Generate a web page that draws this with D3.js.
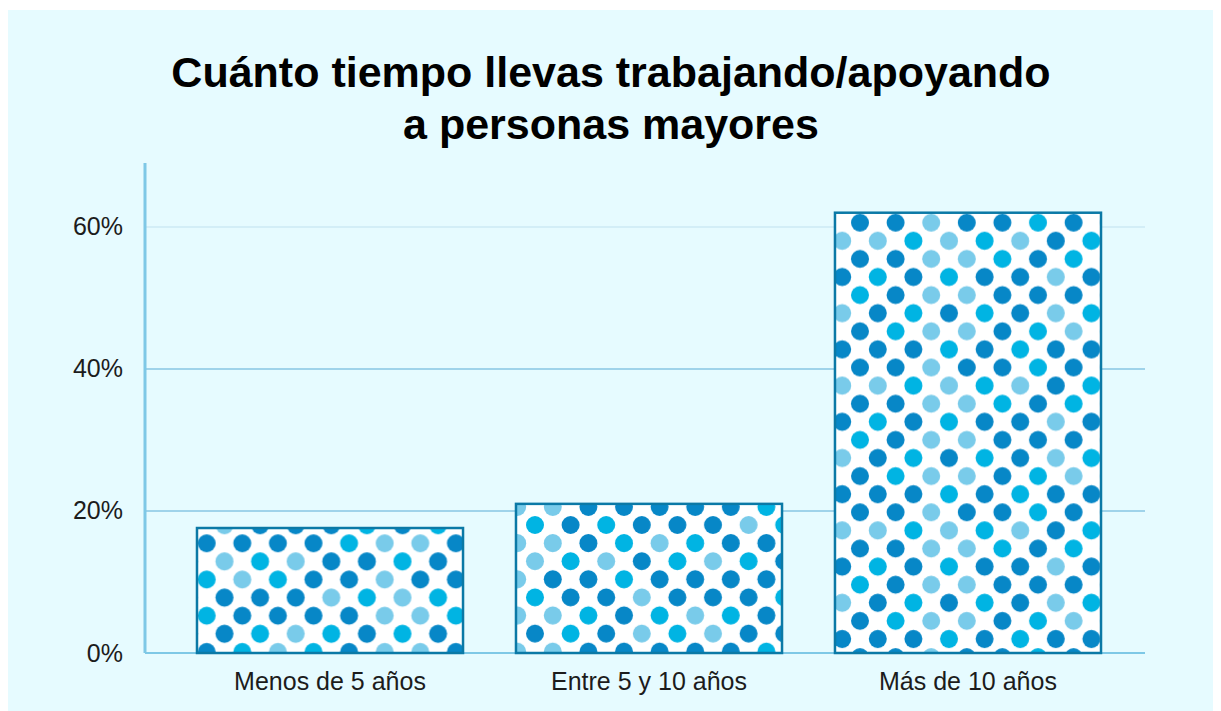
<!DOCTYPE html>
<html><head><meta charset="utf-8">
<script src="https://cdn.jsdelivr.net/npm/d3@7/dist/d3.min.js"></script>
<style>body{margin:0;background:#fff}svg{display:block}text{font-family:"Liberation Sans",Arial,Helvetica,sans-serif}</style>
</head><body>
<script>
const titleLines = ["Cuánto tiempo llevas trabajando/apoyando", "a personas mayores"];
const categories = ["Menos de 5 años", "Entre 5 y 10 años", "Más de 10 años"];
const values = [0.176, 0.21, 0.62];
const yTicks = [0, 0.2, 0.4, 0.6];
const dotColors = ["#0787c7", "#00b4e3", "#79cbea"];
// fixed hand-picked colour order for the dot tile (0 dark, 1 cyan, 2 light)
const dotOrder = "0201020010212001102010020122010210010201002120100210201001202100";
// anchor of one dot of the lattice inside each bar (pattern phase)
const patternAnchors = [[206.7, 543.3], [535, 525], [860, 222.7]];

const W = 1221, H = 711;
const svg = d3.select("body").append("svg").attr("width", W).attr("height", H);
svg.append("rect").attr("x", 8).attr("y", 10).attr("width", 1205).attr("height", 701).attr("fill", "#e6fbff");

// pattern tile
const sx = 35.6, sy = 36.2, r = 9, cols = 8, rows = 4;
const tw = sx * cols, th = sy * rows;
let k = 0;
const baseDots = [];
for (let j = 0; j < rows; j++) for (let i = 0; i < cols; i++) {
  baseDots.push({x: i * sx, y: j * sy, n: k++});
  baseDots.push({x: i * sx + sx / 2, y: j * sy + sy / 2, n: k++});
}
const dots = [];
baseDots.forEach(d => { for (const ox of [-tw, 0, tw]) for (const oy of [-th, 0, th]) dots.push({x: d.x + ox, y: d.y + oy, n: d.n}); });
const defs = svg.append("defs");
patternAnchors.forEach((a, bi) => {
  const pat = defs.append("pattern").attr("id", "dots" + bi).attr("patternUnits", "userSpaceOnUse")
    .attr("width", tw).attr("height", th).attr("x", a[0]).attr("y", a[1]);
  pat.append("rect").attr("width", tw).attr("height", th).attr("fill", "#fff");
  pat.selectAll("circle").data(dots).join("circle")
    .attr("cx", d => d.x).attr("cy", d => d.y).attr("r", r)
    .attr("fill", d => dotColors[+dotOrder[(d.n + bi * 11) % dotOrder.length]]);
});

const x = d3.scaleBand().domain(categories).range([145, 1153]).paddingInner(0.166).paddingOuter(0.163);
const y = d3.scaleLinear().domain([0, 0.69]).range([653, 163]);

// gridlines
svg.append("g").selectAll("line").data(yTicks.filter(t => t > 0)).join("line")
  .attr("x1", 145).attr("x2", 1145).attr("y1", d => y(d)).attr("y2", d => y(d))
  .attr("stroke", (d, i) => i === 2 ? "#d3eef7" : "#9fd3ea").attr("stroke-width", 2);

// y axis
const yAxis = d3.axisLeft(y).tickValues(yTicks).tickFormat(d3.format(".0%")).tickSize(0).tickPadding(22);
const ga = svg.append("g").attr("transform", "translate(145,0)").call(yAxis);
ga.select(".domain").remove();
ga.selectAll("text").attr("font-size", 25).attr("fill", "#1c1c1c").attr("font-family", "Liberation Sans, Arial, sans-serif");
svg.append("line").attr("x1", 145).attr("x2", 145).attr("y1", 163).attr("y2", 653).attr("stroke", "#7ec8e6").attr("stroke-width", 3);
svg.append("line").attr("x1", 145).attr("x2", 1145).attr("y1", 653).attr("y2", 653).attr("stroke", "#7ec8e6").attr("stroke-width", 2);

// bars
svg.append("g").selectAll("rect").data(values).join("rect")
  .attr("x", (d, i) => x(categories[i])).attr("width", x.bandwidth())
  .attr("y", d => y(d)).attr("height", d => y(0) - y(d))
  .attr("fill", (d, i) => "url(#dots" + i + ")").attr("stroke", "#0b79a6").attr("stroke-width", 2.5);

// x labels
const xAxis = d3.axisBottom(x).tickSize(0).tickPadding(19);
const gx = svg.append("g").attr("transform", "translate(0,653)").call(xAxis);
gx.select(".domain").remove();
gx.selectAll("text").attr("font-size", 25).attr("fill", "#1c1c1c").attr("font-family", "Liberation Sans, Arial, sans-serif");

// title
svg.append("text").attr("x", 611).attr("y", 87).attr("text-anchor", "middle")
  .attr("font-size", 43).attr("font-weight", "bold").attr("fill", "#000")
  .selectAll("tspan").data(titleLines).join("tspan")
  .attr("x", 611).attr("dy", (d, i) => i === 0 ? 0 : 52).text(d => d);
</script>
</body></html>
